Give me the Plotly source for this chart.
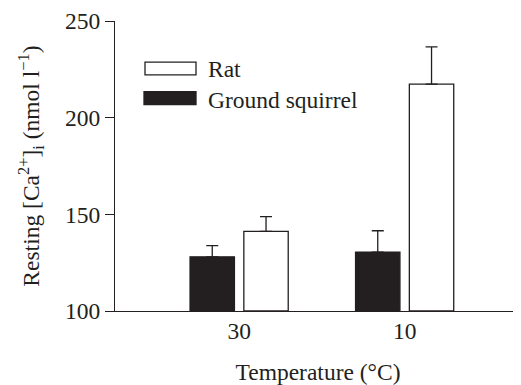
import plotly.graph_objects as go

categories = ["30", "10"]
positions = [0, 1]
gs_values = [128.0, 130.5]
gs_err = [5.8, 11.0]
rat_values = [141.2, 217.4]
rat_err = [7.6, 19.2]
y_ticks = [100, 150, 200, 250]

ink = "#231f20"
font_family = "Liberation Serif, Times New Roman, serif"

fig = go.Figure()
fig.add_trace(go.Bar(
    name="Ground squirrel", x=positions, y=[v - 100 for v in gs_values], base=100,
    marker=dict(color=ink, line=dict(color=ink, width=1.3)),
    error_y=dict(type="data", array=gs_err, arrayminus=[0, 0], symmetric=False,
                 color=ink, thickness=1.3, width=6),
    showlegend=False,
))
fig.add_trace(go.Bar(
    name="Rat", x=positions, y=[v - 100 for v in rat_values], base=100,
    marker=dict(color="white", line=dict(color=ink, width=1.3)),
    error_y=dict(type="data", array=rat_err, arrayminus=[0, 0], symmetric=False,
                 color=ink, thickness=1.3, width=6),
    showlegend=False,
))

fs = 23.5
fig.update_layout(
    width=513, height=377,
    margin=dict(l=107, r=0, t=7.5, b=74.3),
    paper_bgcolor="white", plot_bgcolor="white",
    barmode="group", bargap=0.35, bargroupgap=0.175,
    font=dict(family=font_family, size=fs, color=ink),
    xaxis=dict(
        range=[-0.75, 1.703], tickmode="array", tickvals=positions, ticktext=categories,
        showline=True, linecolor=ink, linewidth=1.3, showgrid=False, zeroline=False,
        ticks="", ticklabelstandoff=-1,
        title=dict(text="Temperature (°C)", standoff=22, font=dict(size=fs)),
    ),
    yaxis=dict(
        range=[100, 250], tickmode="array", tickvals=y_ticks,
        showline=True, linecolor=ink, linewidth=1.3, showgrid=False, zeroline=False,
        ticks="outside", ticklen=9, tickwidth=1.3, tickcolor=ink,
        ticklabeloverflow="allow",
        title=dict(text="Resting [Ca<sup>2+</sup>]<sub>i</sub> (nmol l<sup>−1</sup>)",
                   standoff=18, font=dict(size=fs)),
    ),
)

# manual legend (page pixels -> paper; plot area spans x 115..521, y 15.5..310.7)
def px_to_paper(x, y):
    return (x - 115) / 406.0, (310.7 - y) / 295.2

x0, y0 = px_to_paper(145, 57.3)
x1, y1 = px_to_paper(196, 70.3)
fig.add_shape(type="rect", xref="paper", yref="paper", x0=x0, y0=y1, x1=x1, y1=y0,
              fillcolor="white", line=dict(color=ink, width=1.3))
x0, y0 = px_to_paper(144, 87.3)
x1, y1 = px_to_paper(196, 100.7)
fig.add_shape(type="rect", xref="paper", yref="paper", x0=x0, y0=y1, x1=x1, y1=y0,
              fillcolor=ink, line=dict(color=ink, width=1.3))
tx, ty = px_to_paper(206, 64)
fig.add_annotation(xref="paper", yref="paper", x=tx, y=ty, text="Rat", showarrow=False,
                   xanchor="left", yanchor="middle", font=dict(size=fs))
tx, ty = px_to_paper(206, 96)
fig.add_annotation(xref="paper", yref="paper", x=tx, y=ty, text="Ground squirrel", showarrow=False,
                   xanchor="left", yanchor="middle", font=dict(size=fs))

fig.write_html("out.html")
